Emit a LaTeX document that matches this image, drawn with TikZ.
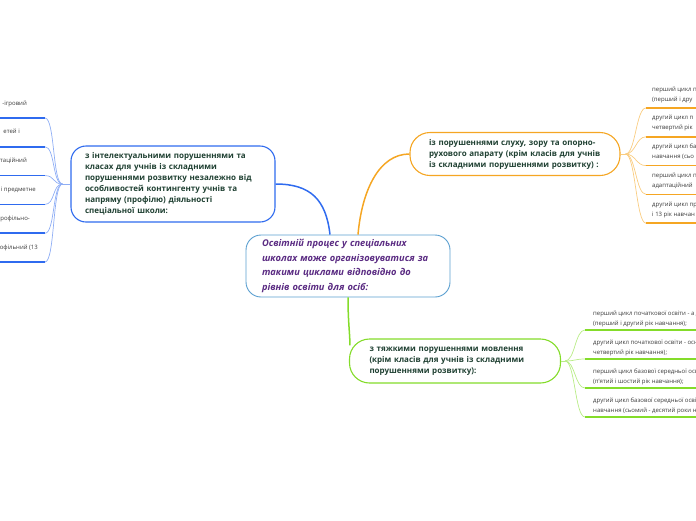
\documentclass[tikz,border=0pt]{standalone}
\usepackage{fontspec}
\setmainfont{Open Sans}
\definecolor{mapblue}{HTML}{2F6BEF}
\definecolor{mapblueL}{HTML}{8FAEF5}
\definecolor{maporange}{HTML}{F5A623}
\definecolor{maporangeL}{HTML}{F9CC80}
\definecolor{mapgreen}{HTML}{84DC2A}
\definecolor{mapgreenL}{HTML}{B8EC86}
\definecolor{rootline}{HTML}{5A9FD0}
\definecolor{rootpurple}{HTML}{5B2C83}
\definecolor{topictext}{HTML}{1F4032}
\definecolor{leaftext}{HTML}{3A3A3A}
\begin{document}
\begin{tikzpicture}[x=1pt,y=-1pt,
	topic/.style={draw,fill=white,line width=1.1pt,rounded corners=15pt,align=left,text=topictext,
		font=\bfseries\fontsize{8}{11}\selectfont},
	leaf/.style={inner sep=0pt,align=left,text=leaftext,font=\fontsize{6}{10}\selectfont},
	twig/.style={line width=.7pt},
	bar/.style={line width=1.6pt}]
	\useasboundingbox (0,0) rectangle (696,520);
	\clip (0,0) rectangle (696,520);
	\node[topic,draw=rootline,line width=.9pt,text=rootpurple,font=\bfseries\itshape\fontsize{9.3}{14.5}\selectfont,
		text width=172pt,inner xsep=16pt,minimum height=62pt] (root) at (348,266)
		{Освітній процес у спеціальних\\школах може організовуватися за\\такими циклами відповідно до\\рівнів освіти для осіб:};
	\node[topic,draw=mapblue,text width=176pt,inner xsep=14pt,minimum height=76pt] (intel) at (173,184)
		{з інтелектуальними порушеннями та\\класах для учнів із складними\\порушеннями розвитку незалежно від\\особливостей контингенту учнів та\\напряму (профілю) діяльності\\спеціальної школи:};
	\node[topic,draw=maporange,rounded corners=20pt,text width=172pt,inner xsep=19pt,minimum height=43pt] (hear) at (515,154)
		{із порушеннями слуху, зору та опорно-\\рухового апарату (крім класів для учнів\\із складними порушеннями розвитку) :};
	\node[topic,draw=mapgreen,rounded corners=20pt,text width=171pt,inner xsep=20pt,minimum height=44pt] (speech) at (455,361)
		{з тяжкими порушеннями мовлення\\(крім класів для учнів із складними\\порушеннями розвитку):};
	% main branches
	\draw[mapblue,line width=1.5pt] ([xshift=-18pt]root.north) .. controls +(-4,-35) and +(35,0) .. (intel.east);
	\draw[maporange,line width=1.5pt] ([xshift=10pt]root.north) .. controls +(4,-45) and +(-30,0) .. (hear.west);
	\draw[mapgreen,line width=1.5pt] (root.south) .. controls +(0,25) and +(0,-12) .. ([xshift=1pt,yshift=-7pt]speech.north west);
	% left leaves
	\foreach \xe/\t [count=\i] in {27/{-ігровий},20/{етей і},27/{птаційний},36/{і предметне},30/{рофільно-},38/{рофільний (13}}{
		\node[leaf,anchor=base east] (bl\i) at (\xe,105+28.8*\i-28.8) {\t};
		\coordinate (bc\i) at (45,118+28.8*\i-28.8);
		\draw[twig,mapblueL] ([xshift=-8pt]intel.west) .. controls +(-10,0) and +(10,0) .. (bc\i);
		\draw[bar,mapblue] (bc\i) -- ++(-50,0);
	}
	\draw[twig,mapblueL] ([xshift=-8pt]intel.west) -- (intel.west);
	% right leaves (orange)
	\foreach \t [count=\i] in {{перший цикл п\\(перший і дру},{другий цикл п\\четвертий рік},{другий цикл ба\\навчання (сьо},{перший цикл п\\адаптаційний},{другий цикл пр\\і 13 рік навчан}}{
		\node[leaf,anchor=base west] (ol\i) at (652,101+28.8*\i-28.8) {\t};
		\coordinate (oc\i) at (646,108+28.8*\i-28.8);
		\draw[twig,maporangeL] ([xshift=5pt]hear.east) .. controls +(10,0) and +(-10,0) .. (oc\i);
		\draw[bar,maporange] (oc\i) -- ++(60,0);
	}
	\draw[twig,maporangeL] (hear.east) -- ([xshift=5pt]hear.east);
	% right leaves (green)
	\foreach \t [count=\i] in {{перший цикл початкової освіти - а д\\(перший і другий рік навчання);},{другий цикл початкової освіти - осн\\четвертий рік навчання);},{перший цикл базової середньої осв\\(п'ятий і шостий рік навчання);},{другий цикл базової середньої осві\\навчання (сьомий - десятий роки н}}{
		\node[leaf,anchor=base west] (gl\i) at (593,325+29*\i-29) {\t};
		\coordinate (gc\i) at (585,330+29*\i-29);
		\draw[twig,mapgreenL] ([xshift=4pt]speech.east) .. controls +(10,0) and +(-10,0) .. (gc\i);
		\draw[bar,mapgreen] (gc\i) -- ++(120,0);
	}
	\draw[twig,mapgreenL] (speech.east) -- ([xshift=4pt]speech.east);
\end{tikzpicture}
\end{document}
